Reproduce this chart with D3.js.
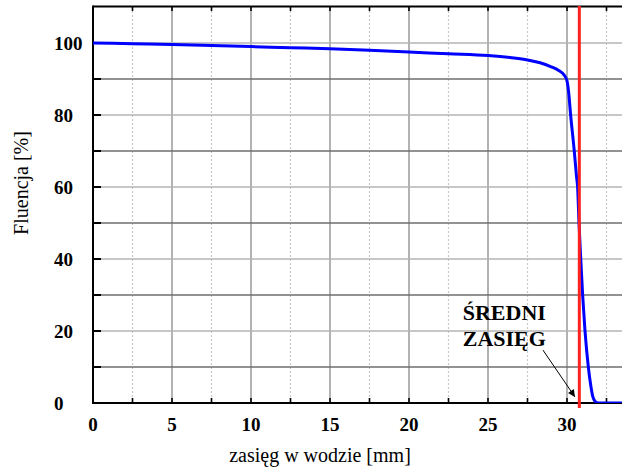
<!DOCTYPE html>
<html>
<head>
<meta charset="utf-8">
<script src="https://cdn.jsdelivr.net/npm/d3@7"></script>
<style>
  html, body { margin: 0; padding: 0; background: #fff; }
  svg { display: block; }
</style>
</head>
<body>
<svg id="chart" width="622" height="470"></svg>
<script>
// Fluence vs. depth in water (proton range curve)
const depthMm = [0, 2.5, 5, 7.5, 10, 12.5, 15, 17.5, 20, 22.5, 25, 26.5, 27.5, 28.3, 29, 29.5, 29.8, 30.0, 30.1, 30.23, 30.46, 30.6, 30.67, 30.76, 30.87, 30.99, 31.14, 31.35, 31.5, 31.62, 31.75, 31.9, 32.1, 34];
const fluence = [100, 99.8, 99.6, 99.3, 99.0, 98.7, 98.4, 98.0, 97.5, 97.0, 96.5, 95.9, 95.3, 94.5, 93.4, 92.3, 91.2, 89.5, 86.5, 80, 70, 63, 60, 50, 40, 30, 20, 10, 5, 2, 0.6, 0.1, 0, 0];

const xTickLabels = [0, 5, 10, 15, 20, 25, 30];
const yTickLabels = [0, 20, 40, 60, 80, 100];
const meanRange = 30.78;               // mm, where the curve crosses 50 %
const meanRangeLabel = ["ŚREDNI", "ZASIĘG"];
const xTitle = "zasięg w wodzie [mm]";
const yTitle = "Fluencja [%]";

const svg = d3.select("#chart");
const plotLeft = 93, plotBottom = 403, plotTop = 7, plotRight = 622;

const x = d3.scaleLinear().domain([0, 34]).range([plotLeft, plotLeft + 34 * 15.8]);
const y = d3.scaleLinear().domain([0, 110]).range([plotBottom, plotTop]);

const defs = svg.append("defs");
defs.append("clipPath").attr("id", "plot")
  .append("rect").attr("x", plotLeft).attr("y", plotTop - 1)
  .attr("width", plotRight - plotLeft).attr("height", plotBottom - plotTop + 1);

defs.append("marker")
  .attr("id", "head").attr("viewBox", "0 0 10 10")
  .attr("refX", 10).attr("refY", 5)
  .attr("markerWidth", 9).attr("markerHeight", 7)
  .attr("markerUnits", "userSpaceOnUse")
  .attr("orient", "auto")
  .append("path").attr("d", "M0,0 L10,5 L0,10 Z").attr("fill", "#000");

const grid = svg.append("g").attr("clip-path", "url(#plot)");

// vertical grid: solid at every 5 mm, dotted halfway between
const xMinor = d3.range(2.5, 34, 5);
const xMajor = d3.range(5, 34, 5);
grid.selectAll(".vminor").data(xMinor).join("line")
  .attr("x1", d => x(d)).attr("x2", d => x(d))
  .attr("y1", plotTop).attr("y2", plotBottom)
  .attr("stroke", "#c8c8c8").attr("stroke-width", 1.2)
  .attr("stroke-dasharray", "2,2");
grid.selectAll(".vmajor").data(xMajor).join("line")
  .attr("x1", d => x(d)).attr("x2", d => x(d))
  .attr("y1", plotTop).attr("y2", plotBottom)
  .attr("stroke", "#8a8a8a").attr("stroke-width", 1.3);

// horizontal grid every 10 %
const yGrid = d3.range(10, 110, 10);
grid.selectAll(".hgrid").data(yGrid).join("line")
  .attr("x1", plotLeft).attr("x2", plotRight)
  .attr("y1", d => y(d)).attr("y2", d => y(d))
  .attr("stroke", d => d % 20 === 0 ? "#b4b4b4" : "#6e6e6e")
  .attr("stroke-width", 1.6);

// frame: left axis, bottom axis, top border
svg.append("line").attr("x1", plotLeft).attr("x2", plotRight).attr("y1", plotBottom).attr("y2", plotBottom)
  .attr("stroke", "#000").attr("stroke-width", 2);
svg.append("line").attr("x1", plotLeft).attr("x2", plotRight).attr("y1", plotTop - 0.5).attr("y2", plotTop - 0.5)
  .attr("stroke", "#000").attr("stroke-width", 2);
svg.append("line").attr("x1", plotLeft).attr("x2", plotLeft).attr("y1", plotTop - 1.5).attr("y2", plotBottom + 1)
  .attr("stroke", "#000").attr("stroke-width", 2);

// tick marks
const xTicks = d3.range(2.5, 34, 2.5).filter(d => x(d) < plotRight);
svg.selectAll(".tb").data(xTicks).join("line")
  .attr("x1", d => x(d)).attr("x2", d => x(d))
  .attr("y1", plotBottom).attr("y2", plotBottom - 5)
  .attr("stroke", "#000").attr("stroke-width", 1.6);
svg.selectAll(".tt").data(xTicks).join("line")
  .attr("x1", d => x(d)).attr("x2", d => x(d))
  .attr("y1", plotTop - 1).attr("y2", plotTop + 4)
  .attr("stroke", "#000").attr("stroke-width", 1.6);
svg.selectAll(".tl").data(yGrid).join("line")
  .attr("x1", plotLeft).attr("x2", plotLeft + 8)
  .attr("y1", d => y(d)).attr("y2", d => y(d))
  .attr("stroke", "#000").attr("stroke-width", 2);

// tick labels
const labelFont = "'Liberation Serif', 'Times New Roman', serif";
svg.selectAll(".xl").data(xTickLabels).join("text")
  .attr("x", d => x(d)).attr("y", 431)
  .attr("text-anchor", "middle")
  .attr("font-family", labelFont).attr("font-weight", "bold").attr("font-size", 19)
  .text(d => d);
svg.selectAll(".yl").data(yTickLabels).join("text")
  .attr("x", 54).attr("y", d => y(d) + 6.5)
  .attr("text-anchor", "start")
  .attr("font-family", labelFont).attr("font-weight", "bold").attr("font-size", 19)
  .text(d => d);

// axis titles
svg.append("text").attr("x", 320).attr("y", 462)
  .attr("text-anchor", "middle")
  .attr("font-family", labelFont).attr("font-size", 20)
  .text(xTitle);
svg.append("text")
  .attr("transform", "translate(28,183) rotate(-90)")
  .attr("text-anchor", "middle")
  .attr("font-family", labelFont).attr("font-size", 20)
  .text(yTitle);

// fluence curve
const line = d3.line().x((d, i) => x(depthMm[i])).y(d => y(d)).curve(d3.curveMonotoneX);
svg.append("path").datum(fluence)
  .attr("clip-path", "url(#plot)")
  .attr("d", line)
  .attr("fill", "none").attr("stroke", "#0000ff").attr("stroke-width", 3)
  .attr("stroke-linejoin", "round");

// mean range marker
svg.append("line")
  .attr("x1", x(meanRange)).attr("x2", x(meanRange))
  .attr("y1", plotTop - 1).attr("y2", plotBottom + 5)
  .attr("stroke", "#ff2020").attr("stroke-width", 3);

// annotation
svg.selectAll(".ann").data(meanRangeLabel).join("text")
  .attr("x", x(23.4)).attr("y", (d, i) => y(23) + i * 26)
  .attr("font-family", labelFont).attr("font-weight", "bold").attr("font-size", 22)
  .text(d => d);
svg.append("line")
  .attr("x1", x(28.48)).attr("y1", y(14.7))
  .attr("x2", x(30.5)).attr("y2", y(1.7))
  .attr("stroke", "#000").attr("stroke-width", 1)
  .attr("marker-end", "url(#head)");
</script>
</body>
</html>
